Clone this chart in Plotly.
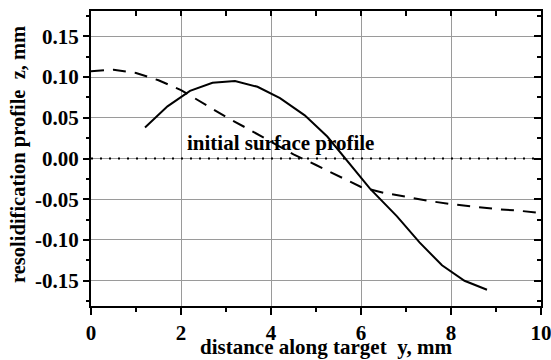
import plotly.graph_objects as go

# solid curve: resolidification profile
solid_x = [1.2, 1.7, 2.2, 2.7, 3.2, 3.7, 4.2, 4.75, 5.25, 5.7, 6.2, 6.8, 7.3, 7.8, 8.3, 8.8]
solid_y = [0.038, 0.064, 0.083, 0.093, 0.095, 0.088, 0.074, 0.053, 0.027, -0.004, -0.037, -0.071, -0.103, -0.131, -0.150, -0.161]

# dashed curve
dash_x = [0, 0.5, 1.0, 1.5, 2.0, 2.5, 3.0, 3.5, 4.0, 4.5, 5.0, 5.5, 6.0, 6.5, 7.0, 7.5, 8.0, 8.5, 9.0, 9.5, 10.0]
dash_y = [0.107, 0.109, 0.105, 0.096, 0.084, 0.067, 0.051, 0.036, 0.020, 0.005, -0.008, -0.022, -0.035, -0.042, -0.047, -0.052, -0.056, -0.059, -0.062, -0.064, -0.067]

# initial surface profile (dotted)
init_x = [0, 10]
init_y = [0.0, 0.0]

x_ticks = [0, 2, 4, 6, 8, 10]
y_ticks = [-0.15, -0.10, -0.05, 0.00, 0.05, 0.10, 0.15]
y_labels = ["-0.15", "-0.10", "-0.05", "0.00", "0.05", "0.10", "0.15"]

x_title = "distance along target  y, mm"
y_title = "resolidification profile  z, mm"
note_text = "initial surface profile"

FONT = "Liberation Serif"
XR = [0, 10]
YR = [-0.181, 0.181]

fig = go.Figure()
fig.add_trace(go.Scatter(x=init_x, y=init_y, mode="lines",
                         line=dict(color="black", width=2, dash="2px,7px"),
                         showlegend=False, hoverinfo="skip"))
fig.add_trace(go.Scatter(x=dash_x, y=dash_y, mode="lines",
                         line=dict(color="black", width=2, dash="13px,9px"),
                         showlegend=False))
fig.add_trace(go.Scatter(x=solid_x, y=solid_y, mode="lines",
                         line=dict(color="black", width=2),
                         showlegend=False))
# dummy trace for mirrored axes
fig.add_trace(go.Scatter(x=[None], y=[None], xaxis="x2", yaxis="y2",
                         showlegend=False, hoverinfo="skip"))

fig.add_annotation(x=4.22, y=0.019, text=f"<b>{note_text}</b>",
                   showarrow=False, font=dict(family=FONT, size=21, color="black"),
                   xref="x", yref="y")
fig.add_annotation(x=0.522, y=-0.139, xref="paper", yref="paper",
                   text=f"<b>{x_title}</b>", showarrow=False,
                   xanchor="center", yanchor="middle",
                   font=dict(family=FONT, size=21, color="black"))
fig.add_annotation(x=-0.16, y=0.512, xref="paper", yref="paper",
                   text=f"<b>{y_title}</b>", showarrow=False, textangle=-90,
                   xanchor="center", yanchor="middle",
                   font=dict(family=FONT, size=20.5, color="black"))

fig.update_layout(
    width=551, height=360,
    margin=dict(l=91, r=10, t=11, b=54),
    paper_bgcolor="white", plot_bgcolor="white",
    font=dict(family=FONT, color="black"),
    xaxis=dict(range=XR, tickvals=x_ticks, ticktext=[f"<b>{v}</b>" for v in x_ticks],
               tickfont=dict(family=FONT, size=21, color="black"),
               ticklabeloverflow="allow", automargin=False,
               showgrid=True, gridcolor="#9a9a9a", gridwidth=1,
               zeroline=False, showline=True, linecolor="black", linewidth=2,
               ticks="outside", ticklen=7, tickwidth=2, tickcolor="black",
               minor=dict(dtick=1, tick0=0, ticks="outside", ticklen=4, tickwidth=2,
                          tickcolor="black", showgrid=False)),
    yaxis=dict(range=YR, tickvals=y_ticks, ticktext=[f"<b>{t}</b>" for t in y_labels],
               tickfont=dict(family=FONT, size=21, color="black"),
               ticklabeloverflow="allow", automargin=False,
               showgrid=True, gridcolor="#9a9a9a", gridwidth=1,
               zeroline=False, showline=True, linecolor="black", linewidth=2,
               ticks="outside", ticklen=6, tickwidth=2, tickcolor="black",
               minor=dict(dtick=0.025, tick0=0, ticks="outside", ticklen=3, tickwidth=2,
                          tickcolor="black", showgrid=False)),
    xaxis2=dict(range=XR, overlaying="x", side="top", anchor="y2",
                tickvals=x_ticks, showticklabels=False, showgrid=False, zeroline=False,
                showline=True, linecolor="black", linewidth=2,
                ticks="inside", ticklen=5, tickwidth=2, tickcolor="black",
                minor=dict(dtick=1, tick0=0, ticks="inside", ticklen=5, tickwidth=2,
                           tickcolor="black", showgrid=False)),
    yaxis2=dict(range=YR, overlaying="y", side="right", anchor="x2",
                tickvals=y_ticks, showticklabels=False, showgrid=False, zeroline=False,
                showline=True, linecolor="black", linewidth=2,
                ticks="inside", ticklen=7, tickwidth=2, tickcolor="black",
                minor=dict(dtick=0.025, tick0=0, ticks="inside", ticklen=4, tickwidth=2,
                           tickcolor="black", showgrid=False)),
)

fig.write_html("out.html")
